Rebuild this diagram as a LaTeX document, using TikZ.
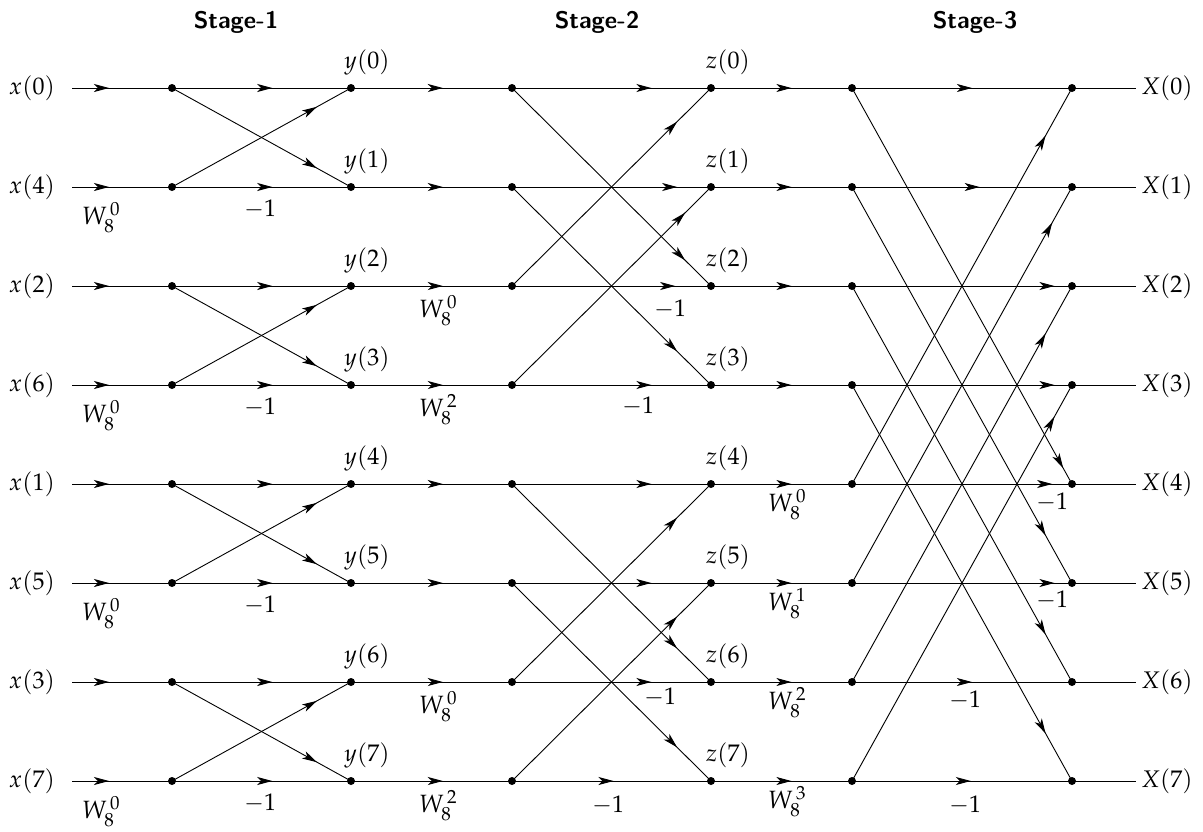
\documentclass[tikz,border=0pt]{standalone}
\usepackage{mathpazo}
\usetikzlibrary{arrows.meta,decorations.markings}
\begin{document}
\begin{tikzpicture}[x=1pt,y=-1pt,
  dot/.style={circle,fill=black,inner sep=0pt,minimum size=8pt},
  wire/.style={line width=0.9pt},
  arr/.style={postaction={decorate,decoration={markings,mark=at position #1 with {\arrow{Stealth[length=15pt,width=8pt,inset=4pt]}}}}},
  lab/.style={font=\fontsize{24}{28}\selectfont, inner sep=0pt},
  wlab/.style={font=\fontsize{25}{29}\selectfont, inner sep=0pt, anchor=north},
  hdr/.style={font=\fontsize{24}{28}\selectfont\sffamily\bfseries, inner sep=0pt}]
\path[use as bounding box] (0,0) rectangle (1203,831);
% nodes
\foreach \i/\r in {0/88,1/187,2/286,3/385,4/484,5/583,6/682,7/781}{
  \coordinate (s\i) at (72,\r);
  \node[dot] (a\i) at (172,\r) {};
  \node[dot] (b\i) at (351,\r) {};
  \node[dot] (c\i) at (512,\r) {};
  \node[dot] (d\i) at (711,\r) {};
  \node[dot] (e\i) at (852,\r) {};
  \node[dot] (f\i) at (1072,\r) {};
  \coordinate (t\i) at (1136,\r);
}
% headers
\node[hdr] (h1) at (236,22) {Stage-1};
\node[hdr] (h2) at (597,22) {Stage-2};
\node[hdr] (h3) at (975,22) {Stage-3};
% input / output labels
\foreach \i/\k in {0/0,1/4,2/2,3/6,4/1,5/5,6/3,7/7}
  \node[lab,anchor=east] (xl\i) at ([xshift=-17pt]s\i) {$x(\k)$};
\foreach \i in {0,...,7}{
  \node[lab,anchor=west] (Xl\i) at ([xshift=5pt]t\i) {$X(\i)$};
  \node[lab] (yl\i) at ([shift={(16,-26)}]b\i) {$y(\i)$};
  \node[lab] (zl\i) at ([shift={(17,-26)}]d\i) {$z(\i)$};
}
% horizontal wires
\foreach \i/\p/\q in {0/0.70/0.545,1/0.83/0.58,2/0.82/0.92,3/0.70/0.92,4/0.70/0.91,5/0.70/0.92,6/0.70/0.545,7/0.51/0.54}{
  \draw[wire,arr=0.37] (s\i) -- (a\i.center);
  \draw[wire,arr=0.56] (a\i.center) -- (b\i.center);
  \draw[wire,arr=0.57] (b\i.center) -- (c\i.center);
  \draw[wire,arr=\p] (c\i.center) -- (d\i.center);
  \draw[wire,arr=0.57] (d\i.center) -- (e\i.center);
  \draw[wire,arr=\q] (e\i.center) -- (f\i.center);
  \draw[wire] (f\i.center) -- (t\i);
}
% stage 1 butterflies
\foreach \p/\q in {0/1,2/3,4/5,6/7}{
  \draw[wire,arr=0.81] (a\p.center) -- (b\q.center);
  \draw[wire,arr=0.81] (a\q.center) -- (b\p.center);
}
% stage 2 butterflies
\foreach \p/\q/\u/\v in {0/2/0.87/0.83,1/3/0.83/0.87,4/6/0.83/0.83,5/7/0.83/0.83}{
  \draw[wire,arr=\u] (c\p.center) -- (d\q.center);
  \draw[wire,arr=\v] (c\q.center) -- (d\p.center);
}
% stage 3 butterflies
\foreach \p/\q/\u/\v in {0/4/0.96/0.88,1/5/0.88/0.91,2/6/0.88/0.88,3/7/0.88/0.92}{
  \draw[wire,arr=\u] (e\p.center) -- (f\q.center);
  \draw[wire,arr=\v] (e\q.center) -- (f\p.center);
}
% twiddle factors
\foreach \i/\r in {1/187,3/385,5/583,7/781}{
  \node[wlab] (wa\i) at (101,\r+15) {$W_8^{\,0}$};
  \node[lab] (ma\i) at (260,\r+22) {$-1$};
}
\node[wlab] (wb2) at (438,286+9) {$W_8^{\,0}$};
\node[wlab] (wb3) at (438,385+9) {$W_8^{\,2}$};
\node[wlab] (wb6) at (438,682+9) {$W_8^{\,0}$};
\node[wlab] (wb7) at (438,781+9) {$W_8^{\,2}$};
\node[lab] (mb2) at (670,286+23) {$-1$};
\node[lab] (mb3) at (638,385+21) {$-1$};
\node[lab] (mb6) at (660,682+15) {$-1$};
\node[lab] (mb7) at (608,781+24) {$-1$};
\node[wlab] (wc4) at (787,484+5) {$W_8^{\,0}$};
\node[wlab] (wc5) at (787,583+5) {$W_8^{\,1}$};
\node[wlab] (wc6) at (787,682+5) {$W_8^{\,2}$};
\node[wlab] (wc7) at (787,781+5) {$W_8^{\,3}$};
\node[lab] (mc4) at (1052,484+18) {$-1$};
\node[lab] (mc5) at (1052,583+17) {$-1$};
\node[lab] (mc6) at (965,682+18) {$-1$};
\node[lab] (mc7) at (965,781+24) {$-1$};
\end{tikzpicture}
\end{document}
